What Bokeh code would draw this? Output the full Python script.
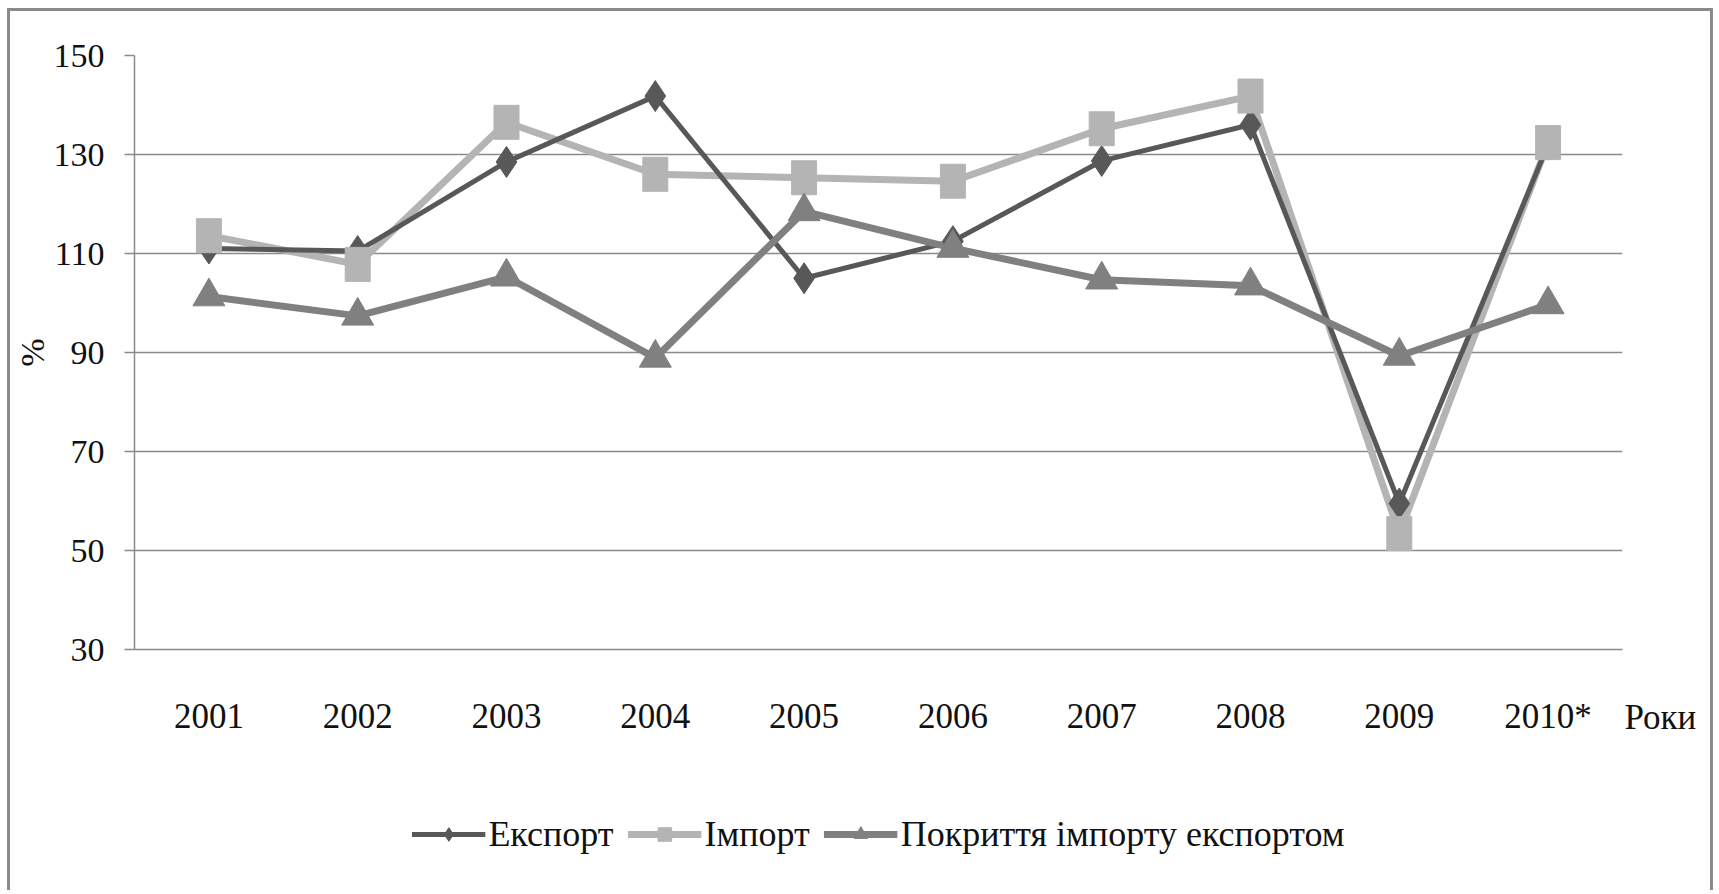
from math import pi
from bokeh.plotting import figure
from bokeh.layouts import column
from bokeh.models import (ColumnDataSource, FactorRange, Range1d, Legend, LegendItem,
                          Label, FixedTicker)
from bokeh.embed import file_html
from bokeh.resources import INLINE

years = ["2001", "2002", "2003", "2004", "2005", "2006", "2007", "2008", "2009", "2010*"]
export_vals = [111.0, 110.5, 128.5, 141.8, 105.0, 112.5, 128.7, 136.0, 59.5, 132.0]
import_vals = [113.6, 107.8, 136.5, 126.0, 125.3, 124.6, 135.2, 141.8, 53.4, 132.4]
cover_vals = [101.3, 97.4, 105.3, 88.9, 118.5, 111.1, 104.7, 103.5, 89.3, 99.7]
y_ticks = [30, 50, 70, 90, 110, 130, 150]
series_names = ["Експорт", "Імпорт", "Покриття імпорту експортом"]

FONT = "Liberation Serif"
FS = "35px"
C_EXP = "#585858"
C_IMP = "#b4b4b4"
C_COV = "#808080"
C_GRID = "#8a8a8a"

src = ColumnDataSource(dict(x=years, exp=export_vals, imp=import_vals, cov=cover_vals))

p = figure(x_range=FactorRange(*years), y_range=Range1d(30, 150),
           width=1700, height=749,
           min_border_left=123, min_border_right=88, min_border_top=44, min_border_bottom=111,
           output_backend="svg", toolbar_location=None,
           background_fill_color="white", border_fill_color="white")
p.outline_line_color = None

# y axis
p.yaxis.ticker = FixedTicker(ticks=y_ticks)
p.yaxis.major_label_text_font = FONT
p.yaxis.major_label_text_font_size = "34px"
p.yaxis.major_label_text_color = "#111111"
p.yaxis.major_tick_out = 10
p.yaxis.major_tick_in = 0
p.yaxis.minor_tick_line_color = None
p.yaxis.major_label_standoff = 20
p.yaxis.axis_line_color = C_GRID
p.yaxis.axis_line_width = 1.5
p.yaxis.major_tick_line_color = C_GRID
p.yaxis.major_tick_line_width = 1.5
p.yaxis.axis_label = "%"
p.yaxis.axis_label_text_font = FONT
p.yaxis.axis_label_text_font_size = "34px"
p.yaxis.axis_label_text_font_style = "normal"
p.yaxis.axis_label_text_color = "#111111"
p.yaxis.axis_label_standoff = 0

# x axis
p.xaxis.major_label_text_font = FONT
p.xaxis.major_label_text_font_size = FS
p.xaxis.major_label_text_color = "#111111"
p.xaxis.major_tick_line_color = None
p.xaxis.major_label_standoff = 41
p.xaxis.axis_line_color = C_GRID
p.xaxis.axis_line_width = 1.5

p.xgrid.grid_line_color = None
p.ygrid.grid_line_color = C_GRID
p.ygrid.grid_line_width = 1.5

# lines
p.line("x", "imp", source=src, line_color=C_IMP, line_width=7)
p.line("x", "exp", source=src, line_color=C_EXP, line_width=5)
p.line("x", "cov", source=src, line_color=C_COV, line_width=7)

# markers
p.scatter("x", "exp", source=src, marker="diamond", size=31,
          fill_color=C_EXP, line_color=C_EXP)
p.rect("x", "imp", source=src, width=25, height=34, width_units="screen",
       height_units="screen", fill_color=C_IMP, line_color=C_IMP)
p.scatter("x", "cov", source=src, marker="triangle", size=32,
          fill_color=C_COV, line_color=C_COV)

# "Роки" next to the last year label, right of the plot frame
p.add_layout(Label(x=10, y=30, x_offset=2, y_offset=-68, text="Роки",
                   text_align="left", text_baseline="middle",
                   text_font=FONT, text_font_size=FS, text_color="#111111"), "right")

# legend strip below the chart (proxy renderers placed outside its visible range)
lg = figure(width=1700, height=130, min_border_left=56, min_border_right=0,
            min_border_top=0, min_border_bottom=0,
            x_range=Range1d(0, 1), y_range=Range1d(0, 1),
            output_backend="svg", toolbar_location=None,
            background_fill_color="white", border_fill_color="white")
lg.outline_line_color = None
lg.axis.visible = False
lg.grid.grid_line_color = None
proxy = ColumnDataSource(dict(x=[-10.0, -9.0], y=[-10.0, -10.0]))
styles = [(C_EXP, 5, "diamond"), (C_IMP, 7, "square"), (C_COV, 7, "triangle")]
items = []
for name, (col, lw, mk) in zip(series_names, styles):
    r_line = lg.line("x", "y", source=proxy, line_color=col, line_width=lw)
    r_mark = lg.scatter("x", "y", source=proxy, marker=mk, size=20,
                        fill_color=col, line_color=col)
    items.append(LegendItem(label=name, renderers=[r_line, r_mark]))
legend = Legend(items=items, orientation="horizontal", location="top_center",
                label_text_font=FONT, label_text_font_size="36px", label_text_color="#111111",
                glyph_width=74, glyph_height=34, label_standoff=3, spacing=14,
                padding=0, margin=53, border_line_color=None, background_fill_alpha=0)
lg.add_layout(legend, "center")

layout = column(p, lg, spacing=0)
layout.margin = (8, 0, 0, 7)
layout.styles = {"border-left": "3px solid #8a8a8a", "border-top": "3px solid #8a8a8a",
                 "border-right": "3px solid #8a8a8a"}

open("out.html", "w").write(file_html(layout, INLINE))
